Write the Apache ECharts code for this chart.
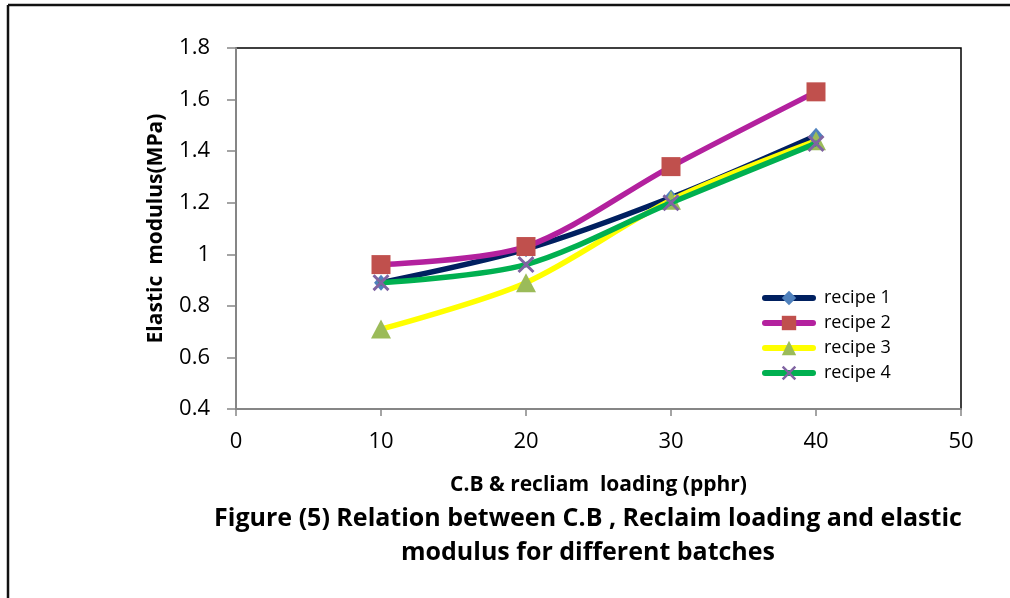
<!DOCTYPE html>
<html>
<head>
<meta charset="utf-8">
<script src="https://cdn.jsdelivr.net/npm/echarts@6/dist/echarts.min.js"></script>
<style>
  html, body { margin: 0; padding: 0; background: #fff; }
  #chart { width: 1010px; height: 598px; }
</style>
</head>
<body>
<div id="chart"></div>
<script>
// Loading levels (pphr) and elastic modulus (MPa) per recipe
const loading = [10, 20, 30, 40];
const recipe1 = [0.89, 1.02, 1.22, 1.46];
const recipe2 = [0.96, 1.03, 1.34, 1.63];
const recipe3 = [0.71, 0.89, 1.21, 1.44];
const recipe4 = [0.89, 0.96, 1.20, 1.43];
const seriesNames = ['recipe 1', 'recipe 2', 'recipe 3', 'recipe 4'];
const yTicks = [0.4, 0.6, 0.8, 1, 1.2, 1.4, 1.6, 1.8];
const xTicks = [0, 10, 20, 30, 40, 50];

const xShape = 'path://M0,1.2L1.2,0L5,3.8L8.8,0L10,1.2L6.2,5L10,8.8L8.8,10L5,6.2L1.2,10L0,8.8L3.8,5Z';

const styles = [
  { line: '#002060', marker: '#4F81BD', symbol: 'diamond', size: [14, 16] },
  { line: '#B3219E', marker: '#C0504D', symbol: 'rect', size: 19 },
  { line: '#FFFF00', marker: '#9BBB59', symbol: 'triangle', size: [20, 19] },
  { line: '#00B050', marker: '#8064A2', symbol: xShape, size: 17 }
];
const values = [recipe1, recipe2, recipe3, recipe4];

const font = '"Open Sans", "Noto Sans", sans-serif';

const chart = echarts.init(document.getElementById('chart'), null, { renderer: 'canvas' });

chart.setOption({
  animation: false,
  backgroundColor: '#fff',
  grid: {
    left: 236, top: 48, right: 49, bottom: 189,
    show: true, borderColor: '#000', borderWidth: 1.5, backgroundColor: 'transparent'
  },
  xAxis: {
    type: 'value', min: xTicks[0], max: xTicks[xTicks.length - 1], interval: 10,
    axisLine: { show: true, onZero: false, lineStyle: { color: '#868686', width: 2 } },
    axisTick: { show: true, length: 7, lineStyle: { color: '#868686', width: 1.5 } },
    splitLine: { show: false },
    axisLabel: { color: '#000', fontSize: 22, fontFamily: font, margin: 22 },
    name: 'C.B & recliam  loading (pphr)',
    nameLocation: 'middle', nameGap: 66,
    nameTextStyle: { color: '#000', fontSize: 21, fontWeight: 'bold', fontFamily: font }
  },
  yAxis: {
    type: 'value', min: yTicks[0], max: yTicks[yTicks.length - 1], interval: 0.2,
    axisLine: { show: true, onZero: false, lineStyle: { color: '#868686', width: 2 } },
    axisTick: { show: true, length: 9, lineStyle: { color: '#868686', width: 1.5 } },
    splitLine: { show: false },
    axisLabel: {
      color: '#000', fontSize: 22, fontFamily: font, margin: 26,
      formatter: v => String(Math.round(v * 10) / 10)
    },
    name: 'Elastic  modulus(MPa)',
    nameLocation: 'middle', nameGap: 69, nameRotate: 90,
    nameTextStyle: { color: '#000', fontSize: 21, fontWeight: 'bold', fontFamily: font }
  },
  legend: {
    orient: 'vertical', left: 757, top: 284, itemGap: 7,
    itemWidth: 48, itemHeight: 18,
    lineStyle: { width: 6, cap: 'round' },
    textStyle: { color: '#000', fontSize: 18, fontFamily: font, padding: [0, 0, 0, 6] },
    data: seriesNames
  },
  series: values.map((vals, i) => ({
    name: seriesNames[i],
    type: 'line',
    smooth: 0.3,
    data: loading.map((x, j) => [x, vals[j]]),
    symbol: styles[i].symbol,
    symbolSize: styles[i].size,
    showAllSymbol: true,
    lineStyle: { color: styles[i].line, width: 5.5, cap: 'round' },
    itemStyle: { color: styles[i].marker, borderWidth: 0 },
    z: 2 + i
  })),
  graphic: [
    { type: 'line', shape: { x1: 8, y1: 5, x2: 1010, y2: 5 }, style: { stroke: '#111', lineWidth: 2.5 } },
    { type: 'line', shape: { x1: 8, y1: 5, x2: 8, y2: 598 }, style: { stroke: '#111', lineWidth: 2.5 } },
    {
      type: 'text',
      style: {
        x: 588, y: 502,
        text: 'Figure (5) Relation between C.B , Reclaim loading and elastic\nmodulus for different batches',
        fill: '#000', font: 'bold 25px ' + font, align: 'center', verticalAlign: 'top', lineHeight: 34
      }
    }
  ]
});
</script>
</body>
</html>
